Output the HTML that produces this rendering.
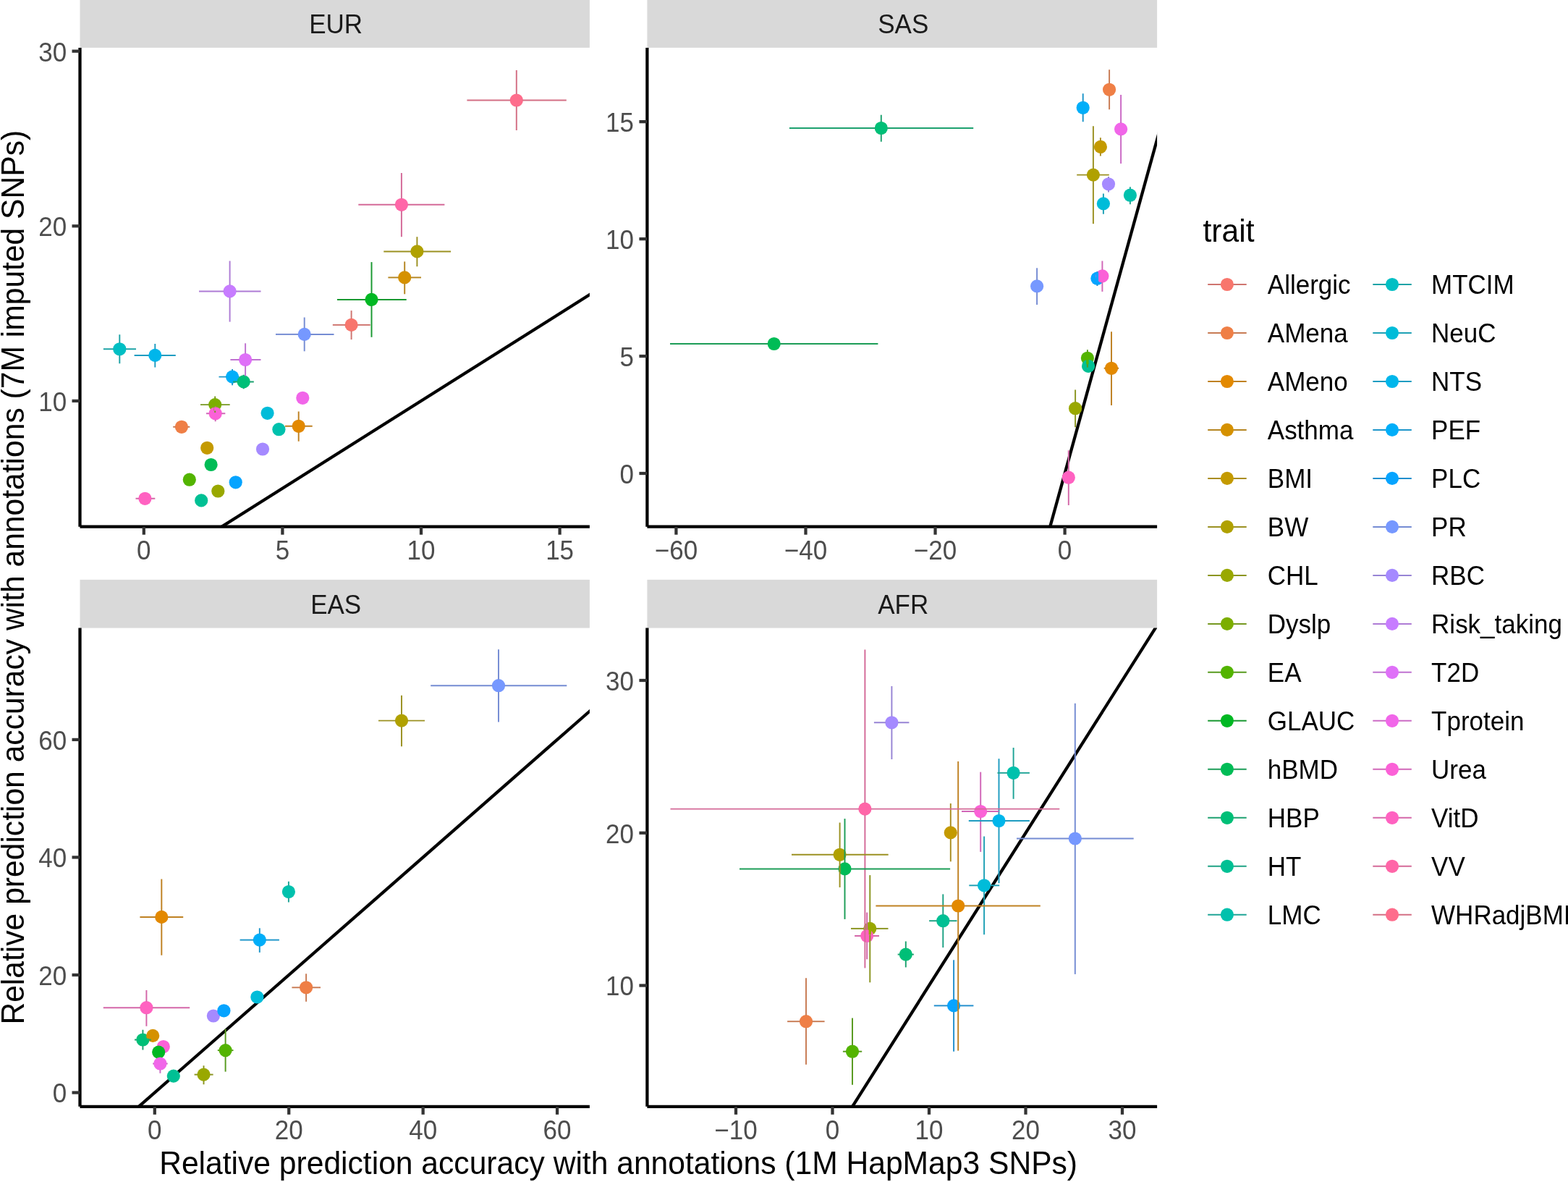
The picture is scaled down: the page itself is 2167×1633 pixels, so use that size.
<!DOCTYPE html><html><head><meta charset="utf-8"><title>Relative prediction accuracy</title>
<style>html,body{margin:0;padding:0;background:#fff;overflow:hidden}svg{display:block}text{font-family:'Liberation Sans', Arial, Helvetica, sans-serif}</style></head><body>
<svg width="2167" height="1633" viewBox="0 0 2167 1633">
<rect x="0" y="0" width="2167" height="1633" fill="#fff"/>
<defs>
<clipPath id="cEUR"><rect x="110.5" y="65.9" width="704.4" height="661.8"/></clipPath>
<clipPath id="cSAS"><rect x="894.4" y="65.9" width="704.7" height="661.8"/></clipPath>
<clipPath id="cEAS"><rect x="110.5" y="867.6" width="704.4" height="661.2"/></clipPath>
<clipPath id="cAFR"><rect x="894.4" y="867.6" width="704.7" height="661.2"/></clipPath>
</defs>
<rect x="110.5" y="-1.0" width="704.4" height="66.9" fill="#D9D9D9"/>
<text transform="translate(464.20,45.80) scale(1,1.040)" font-size="35" fill="#1A1A1A" text-anchor="middle">EUR</text>
<g clip-path="url(#cEUR)">
<line x1="-3633.20" y1="3211.50" x2="4030.80" y2="-1620.50" stroke="#000" stroke-width="4.27"/>
<circle cx="317.6" cy="402.4" r="9.1" fill="#C77CFF"/>
<circle cx="165.3" cy="482.3" r="9.1" fill="#00BFC4"/>
<circle cx="214.3" cy="490.9" r="9.1" fill="#00B6EB"/>
<circle cx="420.7" cy="461.9" r="9.1" fill="#7698FF"/>
<circle cx="339.1" cy="497.0" r="9.1" fill="#DF70F8"/>
<circle cx="321.1" cy="520.6" r="9.1" fill="#00AEF9"/>
<circle cx="336.7" cy="527.4" r="9.1" fill="#00BF77"/>
<circle cx="297.2" cy="559.1" r="9.1" fill="#7CAE00"/>
<circle cx="297.7" cy="571.3" r="9.1" fill="#FB61D7"/>
<circle cx="250.9" cy="589.8" r="9.1" fill="#EF7F46"/>
<circle cx="418.3" cy="549.8" r="9.1" fill="#F166E9"/>
<circle cx="369.6" cy="570.8" r="9.1" fill="#00BCD9"/>
<circle cx="385.4" cy="593.2" r="9.1" fill="#00C1AD"/>
<circle cx="412.7" cy="588.8" r="9.1" fill="#E38900"/>
<circle cx="286.2" cy="618.8" r="9.1" fill="#C49A00"/>
<circle cx="363.0" cy="620.5" r="9.1" fill="#A58AFF"/>
<circle cx="291.6" cy="642.0" r="9.1" fill="#00BC56"/>
<circle cx="261.8" cy="662.7" r="9.1" fill="#53B400"/>
<circle cx="301.3" cy="678.5" r="9.1" fill="#99A800"/>
<circle cx="325.7" cy="666.3" r="9.1" fill="#06A4FF"/>
<circle cx="278.2" cy="691.4" r="9.1" fill="#00C094"/>
<circle cx="200.4" cy="688.8" r="9.1" fill="#FF62C1"/>
<circle cx="713.8" cy="138.5" r="9.1" fill="#FE6D8C"/>
<circle cx="554.9" cy="282.8" r="9.1" fill="#FF66A8"/>
<circle cx="576.4" cy="347.4" r="9.1" fill="#B0A100"/>
<circle cx="559.2" cy="383.4" r="9.1" fill="#D59100"/>
<circle cx="513.5" cy="413.9" r="9.1" fill="#00B823"/>
<circle cx="485.6" cy="448.9" r="9.1" fill="#F8766D"/>
<line x1="317.6" y1="393.9" x2="317.6" y2="410.8" stroke="#C77CFF" stroke-width="3.35"/>
<line x1="309.2" y1="402.4" x2="326.1" y2="402.4" stroke="#C77CFF" stroke-width="3.35"/>
<line x1="165.3" y1="473.9" x2="165.3" y2="490.8" stroke="#00BFC4" stroke-width="3.35"/>
<line x1="156.9" y1="482.3" x2="173.8" y2="482.3" stroke="#00BFC4" stroke-width="3.35"/>
<line x1="214.3" y1="482.4" x2="214.3" y2="499.3" stroke="#00B6EB" stroke-width="3.35"/>
<line x1="205.9" y1="490.9" x2="222.8" y2="490.9" stroke="#00B6EB" stroke-width="3.35"/>
<line x1="420.7" y1="453.4" x2="420.7" y2="470.3" stroke="#7698FF" stroke-width="3.35"/>
<line x1="412.2" y1="461.9" x2="429.1" y2="461.9" stroke="#7698FF" stroke-width="3.35"/>
<line x1="339.1" y1="488.6" x2="339.1" y2="505.4" stroke="#DF70F8" stroke-width="3.35"/>
<line x1="330.7" y1="497.0" x2="347.6" y2="497.0" stroke="#DF70F8" stroke-width="3.35"/>
<line x1="321.1" y1="512.1" x2="321.1" y2="529.1" stroke="#00AEF9" stroke-width="3.35"/>
<line x1="312.7" y1="520.6" x2="329.6" y2="520.6" stroke="#00AEF9" stroke-width="3.35"/>
<line x1="336.7" y1="518.9" x2="336.7" y2="535.9" stroke="#00BF77" stroke-width="3.35"/>
<line x1="328.2" y1="527.4" x2="345.1" y2="527.4" stroke="#00BF77" stroke-width="3.35"/>
<line x1="297.2" y1="550.6" x2="297.2" y2="567.6" stroke="#7CAE00" stroke-width="3.35"/>
<line x1="288.8" y1="559.1" x2="305.6" y2="559.1" stroke="#7CAE00" stroke-width="3.35"/>
<line x1="297.7" y1="562.8" x2="297.7" y2="579.8" stroke="#FB61D7" stroke-width="3.35"/>
<line x1="289.2" y1="571.3" x2="306.1" y2="571.3" stroke="#FB61D7" stroke-width="3.35"/>
<line x1="242.5" y1="589.8" x2="259.4" y2="589.8" stroke="#EF7F46" stroke-width="3.35"/>
<line x1="412.7" y1="580.3" x2="412.7" y2="597.2" stroke="#E38900" stroke-width="3.35"/>
<line x1="404.2" y1="588.8" x2="421.1" y2="588.8" stroke="#E38900" stroke-width="3.35"/>
<line x1="192.0" y1="688.8" x2="208.8" y2="688.8" stroke="#FF62C1" stroke-width="3.35"/>
<line x1="713.8" y1="130.1" x2="713.8" y2="146.9" stroke="#FE6D8C" stroke-width="3.35"/>
<line x1="705.3" y1="138.5" x2="722.2" y2="138.5" stroke="#FE6D8C" stroke-width="3.35"/>
<line x1="554.9" y1="274.4" x2="554.9" y2="291.2" stroke="#FF66A8" stroke-width="3.35"/>
<line x1="546.4" y1="282.8" x2="563.4" y2="282.8" stroke="#FF66A8" stroke-width="3.35"/>
<line x1="576.4" y1="338.9" x2="576.4" y2="355.8" stroke="#B0A100" stroke-width="3.35"/>
<line x1="567.9" y1="347.4" x2="584.9" y2="347.4" stroke="#B0A100" stroke-width="3.35"/>
<line x1="559.2" y1="374.9" x2="559.2" y2="391.8" stroke="#D59100" stroke-width="3.35"/>
<line x1="550.8" y1="383.4" x2="567.7" y2="383.4" stroke="#D59100" stroke-width="3.35"/>
<line x1="513.5" y1="405.4" x2="513.5" y2="422.3" stroke="#00B823" stroke-width="3.35"/>
<line x1="505.1" y1="413.9" x2="522.0" y2="413.9" stroke="#00B823" stroke-width="3.35"/>
<line x1="485.6" y1="440.4" x2="485.6" y2="457.3" stroke="#F8766D" stroke-width="3.35"/>
<line x1="477.2" y1="448.9" x2="494.1" y2="448.9" stroke="#F8766D" stroke-width="3.35"/>
<line x1="317.6" y1="360.5" x2="317.6" y2="393.9" stroke="#AE7BD5" stroke-width="1.95"/>
<line x1="317.6" y1="410.8" x2="317.6" y2="444.6" stroke="#AE7BD5" stroke-width="1.95"/>
<line x1="165.3" y1="462.3" x2="165.3" y2="473.9" stroke="#1FA3A6" stroke-width="1.95"/>
<line x1="165.3" y1="490.8" x2="165.3" y2="502.3" stroke="#1FA3A6" stroke-width="1.95"/>
<line x1="214.3" y1="475.0" x2="214.3" y2="482.4" stroke="#1F9CC1" stroke-width="1.95"/>
<line x1="214.3" y1="499.3" x2="214.3" y2="507.4" stroke="#1F9CC1" stroke-width="1.95"/>
<line x1="420.7" y1="438.5" x2="420.7" y2="453.4" stroke="#758CD3" stroke-width="1.95"/>
<line x1="420.7" y1="470.3" x2="420.7" y2="485.3" stroke="#758CD3" stroke-width="1.95"/>
<line x1="339.1" y1="474.3" x2="339.1" y2="488.6" stroke="#BF72D0" stroke-width="1.95"/>
<line x1="339.1" y1="505.4" x2="339.1" y2="519.6" stroke="#BF72D0" stroke-width="1.95"/>
<line x1="321.1" y1="509.9" x2="321.1" y2="512.1" stroke="#1E96CA" stroke-width="1.95"/>
<line x1="321.1" y1="529.1" x2="321.1" y2="532.3" stroke="#1E96CA" stroke-width="1.95"/>
<line x1="336.7" y1="517.7" x2="336.7" y2="518.9" stroke="#1DA16F" stroke-width="1.95"/>
<line x1="336.7" y1="535.9" x2="336.7" y2="537.2" stroke="#1DA16F" stroke-width="1.95"/>
<line x1="297.2" y1="547.4" x2="297.2" y2="550.6" stroke="#769820" stroke-width="1.95"/>
<line x1="297.2" y1="567.6" x2="297.2" y2="570.1" stroke="#769820" stroke-width="1.95"/>
<line x1="297.7" y1="561.5" x2="297.7" y2="562.8" stroke="#D167B8" stroke-width="1.95"/>
<line x1="297.7" y1="579.8" x2="297.7" y2="582.3" stroke="#D167B8" stroke-width="1.95"/>
<line x1="412.7" y1="568.4" x2="412.7" y2="580.3" stroke="#BF8122" stroke-width="1.95"/>
<line x1="412.7" y1="597.2" x2="412.7" y2="609.8" stroke="#BF8122" stroke-width="1.95"/>
<line x1="713.8" y1="96.9" x2="713.8" y2="130.1" stroke="#D36F84" stroke-width="1.95"/>
<line x1="713.8" y1="146.9" x2="713.8" y2="180.1" stroke="#D36F84" stroke-width="1.95"/>
<line x1="554.9" y1="238.9" x2="554.9" y2="274.4" stroke="#D46A98" stroke-width="1.95"/>
<line x1="554.9" y1="291.2" x2="554.9" y2="327.2" stroke="#D46A98" stroke-width="1.95"/>
<line x1="576.4" y1="327.2" x2="576.4" y2="338.9" stroke="#9B9122" stroke-width="1.95"/>
<line x1="576.4" y1="355.8" x2="576.4" y2="368.2" stroke="#9B9122" stroke-width="1.95"/>
<line x1="559.2" y1="361.4" x2="559.2" y2="374.9" stroke="#B58622" stroke-width="1.95"/>
<line x1="559.2" y1="391.8" x2="559.2" y2="406.3" stroke="#B58622" stroke-width="1.95"/>
<line x1="513.5" y1="362.1" x2="513.5" y2="405.4" stroke="#1A9932" stroke-width="1.95"/>
<line x1="513.5" y1="422.3" x2="513.5" y2="465.8" stroke="#1A9932" stroke-width="1.95"/>
<line x1="485.6" y1="429.1" x2="485.6" y2="440.4" stroke="#CF756F" stroke-width="1.95"/>
<line x1="485.6" y1="457.3" x2="485.6" y2="469.1" stroke="#CF756F" stroke-width="1.95"/>
<line x1="275.0" y1="402.4" x2="309.2" y2="402.4" stroke="#AE7BD5" stroke-width="1.95"/>
<line x1="326.1" y1="402.4" x2="360.5" y2="402.4" stroke="#AE7BD5" stroke-width="1.95"/>
<line x1="142.9" y1="482.3" x2="156.9" y2="482.3" stroke="#1FA3A6" stroke-width="1.95"/>
<line x1="173.8" y1="482.3" x2="188.0" y2="482.3" stroke="#1FA3A6" stroke-width="1.95"/>
<line x1="185.6" y1="490.9" x2="205.9" y2="490.9" stroke="#1F9CC1" stroke-width="1.95"/>
<line x1="222.8" y1="490.9" x2="242.8" y2="490.9" stroke="#1F9CC1" stroke-width="1.95"/>
<line x1="381.0" y1="461.9" x2="412.2" y2="461.9" stroke="#758CD3" stroke-width="1.95"/>
<line x1="429.1" y1="461.9" x2="461.5" y2="461.9" stroke="#758CD3" stroke-width="1.95"/>
<line x1="318.4" y1="497.0" x2="330.7" y2="497.0" stroke="#BF72D0" stroke-width="1.95"/>
<line x1="347.6" y1="497.0" x2="360.5" y2="497.0" stroke="#BF72D0" stroke-width="1.95"/>
<line x1="302.5" y1="520.6" x2="312.7" y2="520.6" stroke="#1E96CA" stroke-width="1.95"/>
<line x1="329.6" y1="520.6" x2="330.6" y2="520.6" stroke="#1E96CA" stroke-width="1.95"/>
<line x1="322.0" y1="527.4" x2="328.2" y2="527.4" stroke="#1DA16F" stroke-width="1.95"/>
<line x1="345.1" y1="527.4" x2="350.8" y2="527.4" stroke="#1DA16F" stroke-width="1.95"/>
<line x1="277.0" y1="559.1" x2="288.8" y2="559.1" stroke="#769820" stroke-width="1.95"/>
<line x1="305.6" y1="559.1" x2="317.7" y2="559.1" stroke="#769820" stroke-width="1.95"/>
<line x1="285.0" y1="571.3" x2="289.2" y2="571.3" stroke="#D167B8" stroke-width="1.95"/>
<line x1="306.1" y1="571.3" x2="311.3" y2="571.3" stroke="#D167B8" stroke-width="1.95"/>
<line x1="239.2" y1="589.8" x2="242.5" y2="589.8" stroke="#C87B54" stroke-width="1.95"/>
<line x1="259.4" y1="589.8" x2="262.3" y2="589.8" stroke="#C87B54" stroke-width="1.95"/>
<line x1="393.9" y1="588.8" x2="404.2" y2="588.8" stroke="#BF8122" stroke-width="1.95"/>
<line x1="421.1" y1="588.8" x2="431.7" y2="588.8" stroke="#BF8122" stroke-width="1.95"/>
<line x1="187.5" y1="688.8" x2="192.0" y2="688.8" stroke="#D467A9" stroke-width="1.95"/>
<line x1="208.8" y1="688.8" x2="214.3" y2="688.8" stroke="#D467A9" stroke-width="1.95"/>
<line x1="645.4" y1="138.5" x2="705.3" y2="138.5" stroke="#D36F84" stroke-width="1.95"/>
<line x1="722.2" y1="138.5" x2="782.8" y2="138.5" stroke="#D36F84" stroke-width="1.95"/>
<line x1="495.3" y1="282.8" x2="546.4" y2="282.8" stroke="#D46A98" stroke-width="1.95"/>
<line x1="563.4" y1="282.8" x2="614.4" y2="282.8" stroke="#D46A98" stroke-width="1.95"/>
<line x1="530.3" y1="347.4" x2="567.9" y2="347.4" stroke="#9B9122" stroke-width="1.95"/>
<line x1="584.9" y1="347.4" x2="623.1" y2="347.4" stroke="#9B9122" stroke-width="1.95"/>
<line x1="536.4" y1="383.4" x2="550.8" y2="383.4" stroke="#B58622" stroke-width="1.95"/>
<line x1="567.7" y1="383.4" x2="582.0" y2="383.4" stroke="#B58622" stroke-width="1.95"/>
<line x1="465.9" y1="413.9" x2="505.1" y2="413.9" stroke="#1A9932" stroke-width="1.95"/>
<line x1="522.0" y1="413.9" x2="561.7" y2="413.9" stroke="#1A9932" stroke-width="1.95"/>
<line x1="459.8" y1="448.9" x2="477.2" y2="448.9" stroke="#CF756F" stroke-width="1.95"/>
<line x1="494.1" y1="448.9" x2="511.8" y2="448.9" stroke="#CF756F" stroke-width="1.95"/>
</g>
<line x1="110.50" y1="65.90" x2="110.50" y2="727.70" stroke="#000" stroke-width="4.27"/>
<line x1="110.50" y1="727.70" x2="814.90" y2="727.70" stroke="#000" stroke-width="4.27"/>
<line x1="99.50" y1="553.90" x2="110.50" y2="553.90" stroke="#333" stroke-width="4.27"/>
<text transform="translate(92.10,567.70) scale(1,1.040)" font-size="35" fill="#4D4D4D" text-anchor="end">10</text>
<line x1="99.50" y1="312.30" x2="110.50" y2="312.30" stroke="#333" stroke-width="4.27"/>
<text transform="translate(92.10,326.10) scale(1,1.040)" font-size="35" fill="#4D4D4D" text-anchor="end">20</text>
<line x1="99.50" y1="70.70" x2="110.50" y2="70.70" stroke="#333" stroke-width="4.27"/>
<text transform="translate(92.10,84.50) scale(1,1.040)" font-size="35" fill="#4D4D4D" text-anchor="end">30</text>
<line x1="198.80" y1="727.70" x2="198.80" y2="738.70" stroke="#333" stroke-width="4.27"/>
<text transform="translate(198.80,772.60) scale(1,1.040)" font-size="35" fill="#4D4D4D" text-anchor="middle">0</text>
<line x1="390.40" y1="727.70" x2="390.40" y2="738.70" stroke="#333" stroke-width="4.27"/>
<text transform="translate(390.40,772.60) scale(1,1.040)" font-size="35" fill="#4D4D4D" text-anchor="middle">5</text>
<line x1="582.00" y1="727.70" x2="582.00" y2="738.70" stroke="#333" stroke-width="4.27"/>
<text transform="translate(582.00,772.60) scale(1,1.040)" font-size="35" fill="#4D4D4D" text-anchor="middle">10</text>
<line x1="773.60" y1="727.70" x2="773.60" y2="738.70" stroke="#333" stroke-width="4.27"/>
<text transform="translate(773.60,772.60) scale(1,1.040)" font-size="35" fill="#4D4D4D" text-anchor="middle">15</text>
<rect x="894.4" y="-1.0" width="704.7" height="66.9" fill="#D9D9D9"/>
<text transform="translate(1248.25,45.80) scale(1,1.040)" font-size="35" fill="#1A1A1A" text-anchor="middle">SAS</text>
<g clip-path="url(#cSAS)">
<line x1="576.30" y1="3893.00" x2="2366.90" y2="-2585.00" stroke="#000" stroke-width="4.27"/>
<circle cx="1533.1" cy="123.8" r="9.1" fill="#EF7F46"/>
<circle cx="1496.7" cy="148.8" r="9.1" fill="#00AEF9"/>
<circle cx="1549.1" cy="178.4" r="9.1" fill="#F166E9"/>
<circle cx="1520.9" cy="202.9" r="9.1" fill="#C49A00"/>
<circle cx="1510.9" cy="241.6" r="9.1" fill="#B0A100"/>
<circle cx="1532.0" cy="254.3" r="9.1" fill="#A58AFF"/>
<circle cx="1561.9" cy="269.7" r="9.1" fill="#00C1AD"/>
<circle cx="1524.9" cy="281.4" r="9.1" fill="#00BCD9"/>
<circle cx="1433.1" cy="395.4" r="9.1" fill="#7698FF"/>
<circle cx="1516.4" cy="384.7" r="9.1" fill="#06A4FF"/>
<circle cx="1523.4" cy="381.4" r="9.1" fill="#FB61D7"/>
<circle cx="1502.9" cy="494.8" r="9.1" fill="#53B400"/>
<circle cx="1504.1" cy="505.8" r="9.1" fill="#00C094"/>
<circle cx="1536.0" cy="508.8" r="9.1" fill="#E38900"/>
<circle cx="1486.1" cy="564.2" r="9.1" fill="#99A800"/>
<circle cx="1476.8" cy="659.7" r="9.1" fill="#FF62C1"/>
<circle cx="1217.8" cy="177.0" r="9.1" fill="#00BF77"/>
<circle cx="1069.7" cy="475.0" r="9.1" fill="#00BC56"/>
<line x1="1533.1" y1="115.3" x2="1533.1" y2="132.2" stroke="#EF7F46" stroke-width="3.35"/>
<line x1="1496.7" y1="140.4" x2="1496.7" y2="157.2" stroke="#00AEF9" stroke-width="3.35"/>
<line x1="1549.1" y1="170.0" x2="1549.1" y2="186.8" stroke="#F166E9" stroke-width="3.35"/>
<line x1="1520.9" y1="194.5" x2="1520.9" y2="211.3" stroke="#C49A00" stroke-width="3.35"/>
<line x1="1510.9" y1="233.2" x2="1510.9" y2="250.0" stroke="#B0A100" stroke-width="3.35"/>
<line x1="1502.5" y1="241.6" x2="1519.4" y2="241.6" stroke="#B0A100" stroke-width="3.35"/>
<line x1="1532.0" y1="245.9" x2="1532.0" y2="262.8" stroke="#A58AFF" stroke-width="3.35"/>
<line x1="1561.9" y1="261.2" x2="1561.9" y2="278.1" stroke="#00C1AD" stroke-width="3.35"/>
<line x1="1524.9" y1="272.9" x2="1524.9" y2="289.8" stroke="#00BCD9" stroke-width="3.35"/>
<line x1="1433.1" y1="386.9" x2="1433.1" y2="403.8" stroke="#7698FF" stroke-width="3.35"/>
<line x1="1516.4" y1="376.2" x2="1516.4" y2="393.1" stroke="#06A4FF" stroke-width="3.35"/>
<line x1="1523.4" y1="372.9" x2="1523.4" y2="389.8" stroke="#FB61D7" stroke-width="3.35"/>
<line x1="1502.9" y1="486.4" x2="1502.9" y2="503.2" stroke="#53B400" stroke-width="3.35"/>
<line x1="1536.0" y1="500.4" x2="1536.0" y2="517.2" stroke="#E38900" stroke-width="3.35"/>
<line x1="1527.5" y1="508.8" x2="1544.5" y2="508.8" stroke="#E38900" stroke-width="3.35"/>
<line x1="1486.1" y1="555.8" x2="1486.1" y2="572.7" stroke="#99A800" stroke-width="3.35"/>
<line x1="1476.8" y1="651.2" x2="1476.8" y2="668.2" stroke="#FF62C1" stroke-width="3.35"/>
<line x1="1217.8" y1="168.6" x2="1217.8" y2="185.4" stroke="#00BF77" stroke-width="3.35"/>
<line x1="1209.3" y1="177.0" x2="1226.2" y2="177.0" stroke="#00BF77" stroke-width="3.35"/>
<line x1="1061.2" y1="475.0" x2="1078.2" y2="475.0" stroke="#00BC56" stroke-width="3.35"/>
<line x1="1533.1" y1="96.2" x2="1533.1" y2="115.3" stroke="#C87B54" stroke-width="1.95"/>
<line x1="1533.1" y1="132.2" x2="1533.1" y2="151.3" stroke="#C87B54" stroke-width="1.95"/>
<line x1="1496.7" y1="129.3" x2="1496.7" y2="140.4" stroke="#1E96CA" stroke-width="1.95"/>
<line x1="1496.7" y1="157.2" x2="1496.7" y2="168.3" stroke="#1E96CA" stroke-width="1.95"/>
<line x1="1549.1" y1="130.9" x2="1549.1" y2="170.0" stroke="#CB6BC5" stroke-width="1.95"/>
<line x1="1549.1" y1="186.8" x2="1549.1" y2="226.1" stroke="#CB6BC5" stroke-width="1.95"/>
<line x1="1520.9" y1="190.2" x2="1520.9" y2="194.5" stroke="#AA8D22" stroke-width="1.95"/>
<line x1="1520.9" y1="211.3" x2="1520.9" y2="215.6" stroke="#AA8D22" stroke-width="1.95"/>
<line x1="1510.9" y1="174.2" x2="1510.9" y2="233.2" stroke="#9B9122" stroke-width="1.95"/>
<line x1="1510.9" y1="250.0" x2="1510.9" y2="309.2" stroke="#9B9122" stroke-width="1.95"/>
<line x1="1532.0" y1="244.0" x2="1532.0" y2="245.9" stroke="#9784D5" stroke-width="1.95"/>
<line x1="1532.0" y1="262.8" x2="1532.0" y2="265.5" stroke="#9784D5" stroke-width="1.95"/>
<line x1="1561.9" y1="258.3" x2="1561.9" y2="261.2" stroke="#1FA496" stroke-width="1.95"/>
<line x1="1561.9" y1="278.1" x2="1561.9" y2="282.2" stroke="#1FA496" stroke-width="1.95"/>
<line x1="1524.9" y1="267.5" x2="1524.9" y2="272.9" stroke="#1FA1B5" stroke-width="1.95"/>
<line x1="1524.9" y1="289.8" x2="1524.9" y2="295.7" stroke="#1FA1B5" stroke-width="1.95"/>
<line x1="1433.1" y1="370.3" x2="1433.1" y2="386.9" stroke="#758CD3" stroke-width="1.95"/>
<line x1="1433.1" y1="403.8" x2="1433.1" y2="421.0" stroke="#758CD3" stroke-width="1.95"/>
<line x1="1516.4" y1="375.0" x2="1516.4" y2="376.2" stroke="#218ECD" stroke-width="1.95"/>
<line x1="1516.4" y1="393.1" x2="1516.4" y2="395.0" stroke="#218ECD" stroke-width="1.95"/>
<line x1="1523.4" y1="360.5" x2="1523.4" y2="372.9" stroke="#D167B8" stroke-width="1.95"/>
<line x1="1523.4" y1="389.8" x2="1523.4" y2="402.9" stroke="#D167B8" stroke-width="1.95"/>
<line x1="1502.9" y1="483.2" x2="1502.9" y2="486.4" stroke="#579A1E" stroke-width="1.95"/>
<line x1="1502.9" y1="503.2" x2="1502.9" y2="507.6" stroke="#579A1E" stroke-width="1.95"/>
<line x1="1536.0" y1="458.3" x2="1536.0" y2="500.4" stroke="#BF8122" stroke-width="1.95"/>
<line x1="1536.0" y1="517.2" x2="1536.0" y2="560.0" stroke="#BF8122" stroke-width="1.95"/>
<line x1="1486.1" y1="538.4" x2="1486.1" y2="555.8" stroke="#8B9521" stroke-width="1.95"/>
<line x1="1486.1" y1="572.7" x2="1486.1" y2="590.3" stroke="#8B9521" stroke-width="1.95"/>
<line x1="1476.8" y1="622.2" x2="1476.8" y2="651.2" stroke="#D467A9" stroke-width="1.95"/>
<line x1="1476.8" y1="668.2" x2="1476.8" y2="697.9" stroke="#D467A9" stroke-width="1.95"/>
<line x1="1217.8" y1="158.7" x2="1217.8" y2="168.6" stroke="#1DA16F" stroke-width="1.95"/>
<line x1="1217.8" y1="185.4" x2="1217.8" y2="195.8" stroke="#1DA16F" stroke-width="1.95"/>
<line x1="1488.2" y1="241.6" x2="1502.5" y2="241.6" stroke="#9B9122" stroke-width="1.95"/>
<line x1="1519.4" y1="241.6" x2="1532.8" y2="241.6" stroke="#9B9122" stroke-width="1.95"/>
<line x1="1525.7" y1="508.8" x2="1527.5" y2="508.8" stroke="#BF8122" stroke-width="1.95"/>
<line x1="1544.5" y1="508.8" x2="1546.2" y2="508.8" stroke="#BF8122" stroke-width="1.95"/>
<line x1="1090.9" y1="177.0" x2="1209.3" y2="177.0" stroke="#1DA16F" stroke-width="1.95"/>
<line x1="1226.2" y1="177.0" x2="1345.2" y2="177.0" stroke="#1DA16F" stroke-width="1.95"/>
<line x1="926.0" y1="475.0" x2="1061.2" y2="475.0" stroke="#1C9D57" stroke-width="1.95"/>
<line x1="1078.2" y1="475.0" x2="1213.4" y2="475.0" stroke="#1C9D57" stroke-width="1.95"/>
</g>
<line x1="894.40" y1="65.90" x2="894.40" y2="727.70" stroke="#000" stroke-width="4.27"/>
<line x1="894.40" y1="727.70" x2="1599.10" y2="727.70" stroke="#000" stroke-width="4.27"/>
<line x1="883.40" y1="654.00" x2="894.40" y2="654.00" stroke="#333" stroke-width="4.27"/>
<text transform="translate(876.00,667.80) scale(1,1.040)" font-size="35" fill="#4D4D4D" text-anchor="end">0</text>
<line x1="883.40" y1="492.05" x2="894.40" y2="492.05" stroke="#333" stroke-width="4.27"/>
<text transform="translate(876.00,505.85) scale(1,1.040)" font-size="35" fill="#4D4D4D" text-anchor="end">5</text>
<line x1="883.40" y1="330.10" x2="894.40" y2="330.10" stroke="#333" stroke-width="4.27"/>
<text transform="translate(876.00,343.90) scale(1,1.040)" font-size="35" fill="#4D4D4D" text-anchor="end">10</text>
<line x1="883.40" y1="168.15" x2="894.40" y2="168.15" stroke="#333" stroke-width="4.27"/>
<text transform="translate(876.00,181.95) scale(1,1.040)" font-size="35" fill="#4D4D4D" text-anchor="end">15</text>
<line x1="934.42" y1="727.70" x2="934.42" y2="738.70" stroke="#333" stroke-width="4.27"/>
<text transform="translate(934.42,772.60) scale(1,1.040)" font-size="35" fill="#4D4D4D" text-anchor="middle">−60</text>
<line x1="1113.48" y1="727.70" x2="1113.48" y2="738.70" stroke="#333" stroke-width="4.27"/>
<text transform="translate(1113.48,772.60) scale(1,1.040)" font-size="35" fill="#4D4D4D" text-anchor="middle">−40</text>
<line x1="1292.54" y1="727.70" x2="1292.54" y2="738.70" stroke="#333" stroke-width="4.27"/>
<text transform="translate(1292.54,772.60) scale(1,1.040)" font-size="35" fill="#4D4D4D" text-anchor="middle">−20</text>
<line x1="1471.60" y1="727.70" x2="1471.60" y2="738.70" stroke="#333" stroke-width="4.27"/>
<text transform="translate(1471.60,772.60) scale(1,1.040)" font-size="35" fill="#4D4D4D" text-anchor="middle">0</text>
<rect x="110.5" y="800.9" width="704.4" height="66.7" fill="#D9D9D9"/>
<text transform="translate(464.20,847.50) scale(1,1.040)" font-size="35" fill="#1A1A1A" text-anchor="middle">EAS</text>
<g clip-path="url(#cEAS)">
<line x1="-713.30" y1="2322.20" x2="1140.90" y2="696.80" stroke="#000" stroke-width="4.27"/>
<circle cx="223.3" cy="1266.9" r="9.1" fill="#E38900"/>
<circle cx="398.9" cy="1232.0" r="9.1" fill="#00C1AD"/>
<circle cx="358.8" cy="1298.6" r="9.1" fill="#00AEF9"/>
<circle cx="423.1" cy="1364.3" r="9.1" fill="#EF7F46"/>
<circle cx="355.4" cy="1377.5" r="9.1" fill="#00BCD9"/>
<circle cx="202.4" cy="1392.2" r="9.1" fill="#FF62C1"/>
<circle cx="294.9" cy="1403.5" r="9.1" fill="#A58AFF"/>
<circle cx="309.4" cy="1396.3" r="9.1" fill="#06A4FF"/>
<circle cx="197.4" cy="1436.5" r="9.1" fill="#00BF77"/>
<circle cx="211.2" cy="1430.9" r="9.1" fill="#D59100"/>
<circle cx="225.8" cy="1446.0" r="9.1" fill="#FB61D7"/>
<circle cx="219.2" cy="1453.6" r="9.1" fill="#00B823"/>
<circle cx="221.4" cy="1469.5" r="9.1" fill="#F166E9"/>
<circle cx="239.8" cy="1486.6" r="9.1" fill="#00C094"/>
<circle cx="281.5" cy="1484.6" r="9.1" fill="#99A800"/>
<circle cx="311.6" cy="1451.1" r="9.1" fill="#53B400"/>
<circle cx="555.0" cy="995.6" r="9.1" fill="#B0A100"/>
<circle cx="689.0" cy="947.2" r="9.1" fill="#7698FF"/>
<line x1="223.3" y1="1258.5" x2="223.3" y2="1275.4" stroke="#E38900" stroke-width="3.35"/>
<line x1="214.9" y1="1266.9" x2="231.8" y2="1266.9" stroke="#E38900" stroke-width="3.35"/>
<line x1="398.9" y1="1223.5" x2="398.9" y2="1240.5" stroke="#00C1AD" stroke-width="3.35"/>
<line x1="358.8" y1="1290.1" x2="358.8" y2="1307.0" stroke="#00AEF9" stroke-width="3.35"/>
<line x1="350.4" y1="1298.6" x2="367.2" y2="1298.6" stroke="#00AEF9" stroke-width="3.35"/>
<line x1="423.1" y1="1355.8" x2="423.1" y2="1372.8" stroke="#EF7F46" stroke-width="3.35"/>
<line x1="414.7" y1="1364.3" x2="431.6" y2="1364.3" stroke="#EF7F46" stroke-width="3.35"/>
<line x1="202.4" y1="1383.8" x2="202.4" y2="1400.7" stroke="#FF62C1" stroke-width="3.35"/>
<line x1="194.0" y1="1392.2" x2="210.8" y2="1392.2" stroke="#FF62C1" stroke-width="3.35"/>
<line x1="197.4" y1="1428.0" x2="197.4" y2="1445.0" stroke="#00BF77" stroke-width="3.35"/>
<line x1="189.0" y1="1436.5" x2="205.8" y2="1436.5" stroke="#00BF77" stroke-width="3.35"/>
<line x1="221.4" y1="1461.3" x2="221.4" y2="1478.0" stroke="#F166E9" stroke-width="3.35"/>
<line x1="213.0" y1="1469.5" x2="229.8" y2="1469.5" stroke="#F166E9" stroke-width="3.35"/>
<line x1="281.5" y1="1476.1" x2="281.5" y2="1493.0" stroke="#99A800" stroke-width="3.35"/>
<line x1="273.1" y1="1484.6" x2="289.9" y2="1484.6" stroke="#99A800" stroke-width="3.35"/>
<line x1="311.6" y1="1442.6" x2="311.6" y2="1459.5" stroke="#53B400" stroke-width="3.35"/>
<line x1="303.2" y1="1451.1" x2="320.1" y2="1451.1" stroke="#53B400" stroke-width="3.35"/>
<line x1="555.0" y1="987.1" x2="555.0" y2="1004.1" stroke="#B0A100" stroke-width="3.35"/>
<line x1="546.5" y1="995.6" x2="563.5" y2="995.6" stroke="#B0A100" stroke-width="3.35"/>
<line x1="689.0" y1="938.8" x2="689.0" y2="955.7" stroke="#7698FF" stroke-width="3.35"/>
<line x1="680.5" y1="947.2" x2="697.5" y2="947.2" stroke="#7698FF" stroke-width="3.35"/>
<line x1="223.3" y1="1214.4" x2="223.3" y2="1258.5" stroke="#BF8122" stroke-width="1.95"/>
<line x1="223.3" y1="1275.4" x2="223.3" y2="1319.7" stroke="#BF8122" stroke-width="1.95"/>
<line x1="398.9" y1="1217.8" x2="398.9" y2="1223.5" stroke="#1FA496" stroke-width="1.95"/>
<line x1="398.9" y1="1240.5" x2="398.9" y2="1246.5" stroke="#1FA496" stroke-width="1.95"/>
<line x1="358.8" y1="1282.3" x2="358.8" y2="1290.1" stroke="#1E96CA" stroke-width="1.95"/>
<line x1="358.8" y1="1307.0" x2="358.8" y2="1315.9" stroke="#1E96CA" stroke-width="1.95"/>
<line x1="423.1" y1="1345.3" x2="423.1" y2="1355.8" stroke="#C87B54" stroke-width="1.95"/>
<line x1="423.1" y1="1372.8" x2="423.1" y2="1383.8" stroke="#C87B54" stroke-width="1.95"/>
<line x1="202.4" y1="1368.0" x2="202.4" y2="1383.8" stroke="#D467A9" stroke-width="1.95"/>
<line x1="202.4" y1="1400.7" x2="202.4" y2="1417.8" stroke="#D467A9" stroke-width="1.95"/>
<line x1="197.4" y1="1422.8" x2="197.4" y2="1428.0" stroke="#1DA16F" stroke-width="1.95"/>
<line x1="197.4" y1="1445.0" x2="197.4" y2="1450.6" stroke="#1DA16F" stroke-width="1.95"/>
<line x1="221.4" y1="1478.0" x2="221.4" y2="1482.8" stroke="#CB6BC5" stroke-width="1.95"/>
<line x1="281.5" y1="1472.2" x2="281.5" y2="1476.1" stroke="#8B9521" stroke-width="1.95"/>
<line x1="281.5" y1="1493.0" x2="281.5" y2="1498.2" stroke="#8B9521" stroke-width="1.95"/>
<line x1="311.6" y1="1421.7" x2="311.6" y2="1442.6" stroke="#579A1E" stroke-width="1.95"/>
<line x1="311.6" y1="1459.5" x2="311.6" y2="1480.6" stroke="#579A1E" stroke-width="1.95"/>
<line x1="555.0" y1="960.7" x2="555.0" y2="987.1" stroke="#9B9122" stroke-width="1.95"/>
<line x1="555.0" y1="1004.1" x2="555.0" y2="1031.2" stroke="#9B9122" stroke-width="1.95"/>
<line x1="689.0" y1="897.3" x2="689.0" y2="938.8" stroke="#758CD3" stroke-width="1.95"/>
<line x1="689.0" y1="955.7" x2="689.0" y2="997.5" stroke="#758CD3" stroke-width="1.95"/>
<line x1="193.4" y1="1266.9" x2="214.9" y2="1266.9" stroke="#BF8122" stroke-width="1.95"/>
<line x1="231.8" y1="1266.9" x2="253.2" y2="1266.9" stroke="#BF8122" stroke-width="1.95"/>
<line x1="331.6" y1="1298.6" x2="350.4" y2="1298.6" stroke="#1E96CA" stroke-width="1.95"/>
<line x1="367.2" y1="1298.6" x2="385.9" y2="1298.6" stroke="#1E96CA" stroke-width="1.95"/>
<line x1="403.4" y1="1364.3" x2="414.7" y2="1364.3" stroke="#C87B54" stroke-width="1.95"/>
<line x1="431.6" y1="1364.3" x2="443.0" y2="1364.3" stroke="#C87B54" stroke-width="1.95"/>
<line x1="142.8" y1="1392.2" x2="194.0" y2="1392.2" stroke="#D467A9" stroke-width="1.95"/>
<line x1="210.8" y1="1392.2" x2="262.2" y2="1392.2" stroke="#D467A9" stroke-width="1.95"/>
<line x1="186.0" y1="1436.5" x2="189.0" y2="1436.5" stroke="#1DA16F" stroke-width="1.95"/>
<line x1="205.8" y1="1436.5" x2="208.7" y2="1436.5" stroke="#1DA16F" stroke-width="1.95"/>
<line x1="211.2" y1="1469.5" x2="213.0" y2="1469.5" stroke="#CB6BC5" stroke-width="1.95"/>
<line x1="229.8" y1="1469.5" x2="231.7" y2="1469.5" stroke="#CB6BC5" stroke-width="1.95"/>
<line x1="268.6" y1="1484.6" x2="273.1" y2="1484.6" stroke="#8B9521" stroke-width="1.95"/>
<line x1="289.9" y1="1484.6" x2="294.6" y2="1484.6" stroke="#8B9521" stroke-width="1.95"/>
<line x1="300.8" y1="1451.1" x2="303.2" y2="1451.1" stroke="#579A1E" stroke-width="1.95"/>
<line x1="320.1" y1="1451.1" x2="322.5" y2="1451.1" stroke="#579A1E" stroke-width="1.95"/>
<line x1="523.0" y1="995.6" x2="546.5" y2="995.6" stroke="#9B9122" stroke-width="1.95"/>
<line x1="563.5" y1="995.6" x2="587.0" y2="995.6" stroke="#9B9122" stroke-width="1.95"/>
<line x1="595.2" y1="947.2" x2="680.5" y2="947.2" stroke="#758CD3" stroke-width="1.95"/>
<line x1="697.5" y1="947.2" x2="783.3" y2="947.2" stroke="#758CD3" stroke-width="1.95"/>
</g>
<line x1="110.50" y1="867.60" x2="110.50" y2="1528.80" stroke="#000" stroke-width="4.27"/>
<line x1="110.50" y1="1528.80" x2="814.90" y2="1528.80" stroke="#000" stroke-width="4.27"/>
<line x1="99.50" y1="1509.50" x2="110.50" y2="1509.50" stroke="#333" stroke-width="4.27"/>
<text transform="translate(92.10,1523.30) scale(1,1.040)" font-size="35" fill="#4D4D4D" text-anchor="end">0</text>
<line x1="99.50" y1="1346.96" x2="110.50" y2="1346.96" stroke="#333" stroke-width="4.27"/>
<text transform="translate(92.10,1360.76) scale(1,1.040)" font-size="35" fill="#4D4D4D" text-anchor="end">20</text>
<line x1="99.50" y1="1184.42" x2="110.50" y2="1184.42" stroke="#333" stroke-width="4.27"/>
<text transform="translate(92.10,1198.22) scale(1,1.040)" font-size="35" fill="#4D4D4D" text-anchor="end">40</text>
<line x1="99.50" y1="1021.88" x2="110.50" y2="1021.88" stroke="#333" stroke-width="4.27"/>
<text transform="translate(92.10,1035.68) scale(1,1.040)" font-size="35" fill="#4D4D4D" text-anchor="end">60</text>
<line x1="213.80" y1="1528.80" x2="213.80" y2="1539.80" stroke="#333" stroke-width="4.27"/>
<text transform="translate(213.80,1573.70) scale(1,1.040)" font-size="35" fill="#4D4D4D" text-anchor="middle">0</text>
<line x1="399.22" y1="1528.80" x2="399.22" y2="1539.80" stroke="#333" stroke-width="4.27"/>
<text transform="translate(399.22,1573.70) scale(1,1.040)" font-size="35" fill="#4D4D4D" text-anchor="middle">20</text>
<line x1="584.64" y1="1528.80" x2="584.64" y2="1539.80" stroke="#333" stroke-width="4.27"/>
<text transform="translate(584.64,1573.70) scale(1,1.040)" font-size="35" fill="#4D4D4D" text-anchor="middle">40</text>
<line x1="770.06" y1="1528.80" x2="770.06" y2="1539.80" stroke="#333" stroke-width="4.27"/>
<text transform="translate(770.06,1573.70) scale(1,1.040)" font-size="35" fill="#4D4D4D" text-anchor="middle">60</text>
<rect x="894.4" y="800.9" width="704.7" height="66.7" fill="#D9D9D9"/>
<text transform="translate(1248.25,847.50) scale(1,1.040)" font-size="35" fill="#1A1A1A" text-anchor="middle">AFR</text>
<g clip-path="url(#cAFR)">
<line x1="-184.50" y1="3679.75" x2="2485.50" y2="-535.25" stroke="#000" stroke-width="4.27"/>
<circle cx="1114.0" cy="1411.2" r="9.1" fill="#EF7F46"/>
<circle cx="1178.0" cy="1452.7" r="9.1" fill="#53B400"/>
<circle cx="1318.1" cy="1389.4" r="9.1" fill="#06A4FF"/>
<circle cx="1324.2" cy="1251.5" r="9.1" fill="#E38900"/>
<circle cx="1303.3" cy="1272.2" r="9.1" fill="#00C094"/>
<circle cx="1251.8" cy="1318.6" r="9.1" fill="#00BF77"/>
<circle cx="1360.1" cy="1223.3" r="9.1" fill="#00BCD9"/>
<circle cx="1202.3" cy="1282.9" r="9.1" fill="#99A800"/>
<circle cx="1198.2" cy="1293.0" r="9.1" fill="#FF62C1"/>
<circle cx="1195.4" cy="1117.6" r="9.1" fill="#FF66A8"/>
<circle cx="1232.4" cy="998.3" r="9.1" fill="#A58AFF"/>
<circle cx="1160.6" cy="1180.8" r="9.1" fill="#B0A100"/>
<circle cx="1167.5" cy="1200.4" r="9.1" fill="#00BC56"/>
<circle cx="1485.8" cy="1158.5" r="9.1" fill="#7698FF"/>
<circle cx="1400.6" cy="1067.8" r="9.1" fill="#00C1AD"/>
<circle cx="1380.5" cy="1134.0" r="9.1" fill="#00B6EB"/>
<circle cx="1355.2" cy="1121.0" r="9.1" fill="#FB61D7"/>
<circle cx="1313.8" cy="1150.4" r="9.1" fill="#C49A00"/>
<line x1="1114.0" y1="1402.8" x2="1114.0" y2="1419.7" stroke="#EF7F46" stroke-width="3.35"/>
<line x1="1105.5" y1="1411.2" x2="1122.5" y2="1411.2" stroke="#EF7F46" stroke-width="3.35"/>
<line x1="1178.0" y1="1444.2" x2="1178.0" y2="1461.2" stroke="#53B400" stroke-width="3.35"/>
<line x1="1169.5" y1="1452.7" x2="1186.5" y2="1452.7" stroke="#53B400" stroke-width="3.35"/>
<line x1="1318.1" y1="1381.0" x2="1318.1" y2="1397.9" stroke="#06A4FF" stroke-width="3.35"/>
<line x1="1309.6" y1="1389.4" x2="1326.5" y2="1389.4" stroke="#06A4FF" stroke-width="3.35"/>
<line x1="1324.2" y1="1243.0" x2="1324.2" y2="1260.0" stroke="#E38900" stroke-width="3.35"/>
<line x1="1315.8" y1="1251.5" x2="1332.7" y2="1251.5" stroke="#E38900" stroke-width="3.35"/>
<line x1="1303.3" y1="1263.8" x2="1303.3" y2="1280.7" stroke="#00C094" stroke-width="3.35"/>
<line x1="1294.8" y1="1272.2" x2="1311.8" y2="1272.2" stroke="#00C094" stroke-width="3.35"/>
<line x1="1251.8" y1="1310.1" x2="1251.8" y2="1327.0" stroke="#00BF77" stroke-width="3.35"/>
<line x1="1243.3" y1="1318.6" x2="1260.2" y2="1318.6" stroke="#00BF77" stroke-width="3.35"/>
<line x1="1360.1" y1="1214.8" x2="1360.1" y2="1231.8" stroke="#00BCD9" stroke-width="3.35"/>
<line x1="1351.6" y1="1223.3" x2="1368.5" y2="1223.3" stroke="#00BCD9" stroke-width="3.35"/>
<line x1="1202.3" y1="1274.5" x2="1202.3" y2="1291.4" stroke="#99A800" stroke-width="3.35"/>
<line x1="1193.8" y1="1282.9" x2="1210.8" y2="1282.9" stroke="#99A800" stroke-width="3.35"/>
<line x1="1198.2" y1="1284.5" x2="1198.2" y2="1301.5" stroke="#FF62C1" stroke-width="3.35"/>
<line x1="1189.8" y1="1293.0" x2="1206.7" y2="1293.0" stroke="#FF62C1" stroke-width="3.35"/>
<line x1="1195.4" y1="1109.1" x2="1195.4" y2="1126.0" stroke="#FF66A8" stroke-width="3.35"/>
<line x1="1187.0" y1="1117.6" x2="1203.9" y2="1117.6" stroke="#FF66A8" stroke-width="3.35"/>
<line x1="1232.4" y1="989.8" x2="1232.4" y2="1006.8" stroke="#A58AFF" stroke-width="3.35"/>
<line x1="1224.0" y1="998.3" x2="1240.9" y2="998.3" stroke="#A58AFF" stroke-width="3.35"/>
<line x1="1160.6" y1="1172.3" x2="1160.6" y2="1189.2" stroke="#B0A100" stroke-width="3.35"/>
<line x1="1152.1" y1="1180.8" x2="1169.0" y2="1180.8" stroke="#B0A100" stroke-width="3.35"/>
<line x1="1167.5" y1="1192.0" x2="1167.5" y2="1208.9" stroke="#00BC56" stroke-width="3.35"/>
<line x1="1159.0" y1="1200.4" x2="1176.0" y2="1200.4" stroke="#00BC56" stroke-width="3.35"/>
<line x1="1485.8" y1="1150.0" x2="1485.8" y2="1167.0" stroke="#7698FF" stroke-width="3.35"/>
<line x1="1477.3" y1="1158.5" x2="1494.2" y2="1158.5" stroke="#7698FF" stroke-width="3.35"/>
<line x1="1400.6" y1="1059.3" x2="1400.6" y2="1076.2" stroke="#00C1AD" stroke-width="3.35"/>
<line x1="1392.1" y1="1067.8" x2="1409.0" y2="1067.8" stroke="#00C1AD" stroke-width="3.35"/>
<line x1="1380.5" y1="1125.5" x2="1380.5" y2="1142.5" stroke="#00B6EB" stroke-width="3.35"/>
<line x1="1372.0" y1="1134.0" x2="1389.0" y2="1134.0" stroke="#00B6EB" stroke-width="3.35"/>
<line x1="1355.2" y1="1112.5" x2="1355.2" y2="1129.5" stroke="#FB61D7" stroke-width="3.35"/>
<line x1="1346.8" y1="1121.0" x2="1363.7" y2="1121.0" stroke="#FB61D7" stroke-width="3.35"/>
<line x1="1313.8" y1="1142.0" x2="1313.8" y2="1158.9" stroke="#C49A00" stroke-width="3.35"/>
<line x1="1305.3" y1="1150.4" x2="1322.0" y2="1150.4" stroke="#C49A00" stroke-width="3.35"/>
<line x1="1114.0" y1="1351.2" x2="1114.0" y2="1402.8" stroke="#C87B54" stroke-width="1.95"/>
<line x1="1114.0" y1="1419.7" x2="1114.0" y2="1470.8" stroke="#C87B54" stroke-width="1.95"/>
<line x1="1178.0" y1="1406.6" x2="1178.0" y2="1444.2" stroke="#579A1E" stroke-width="1.95"/>
<line x1="1178.0" y1="1461.2" x2="1178.0" y2="1498.7" stroke="#579A1E" stroke-width="1.95"/>
<line x1="1318.1" y1="1326.3" x2="1318.1" y2="1381.0" stroke="#218ECD" stroke-width="1.95"/>
<line x1="1318.1" y1="1397.9" x2="1318.1" y2="1452.7" stroke="#218ECD" stroke-width="1.95"/>
<line x1="1324.2" y1="1051.9" x2="1324.2" y2="1243.0" stroke="#BF8122" stroke-width="1.95"/>
<line x1="1324.2" y1="1260.0" x2="1324.2" y2="1451.6" stroke="#BF8122" stroke-width="1.95"/>
<line x1="1303.3" y1="1235.4" x2="1303.3" y2="1263.8" stroke="#1EA284" stroke-width="1.95"/>
<line x1="1303.3" y1="1280.7" x2="1303.3" y2="1309.1" stroke="#1EA284" stroke-width="1.95"/>
<line x1="1251.8" y1="1300.5" x2="1251.8" y2="1310.1" stroke="#1DA16F" stroke-width="1.95"/>
<line x1="1251.8" y1="1327.0" x2="1251.8" y2="1336.4" stroke="#1DA16F" stroke-width="1.95"/>
<line x1="1360.1" y1="1155.5" x2="1360.1" y2="1214.8" stroke="#1FA1B5" stroke-width="1.95"/>
<line x1="1360.1" y1="1231.8" x2="1360.1" y2="1291.2" stroke="#1FA1B5" stroke-width="1.95"/>
<line x1="1202.3" y1="1209.1" x2="1202.3" y2="1274.5" stroke="#8B9521" stroke-width="1.95"/>
<line x1="1202.3" y1="1291.4" x2="1202.3" y2="1357.3" stroke="#8B9521" stroke-width="1.95"/>
<line x1="1198.2" y1="1260.6" x2="1198.2" y2="1284.5" stroke="#D467A9" stroke-width="1.95"/>
<line x1="1198.2" y1="1301.5" x2="1198.2" y2="1325.3" stroke="#D467A9" stroke-width="1.95"/>
<line x1="1195.4" y1="897.6" x2="1195.4" y2="1109.1" stroke="#D46A98" stroke-width="1.95"/>
<line x1="1195.4" y1="1126.0" x2="1195.4" y2="1337.4" stroke="#D46A98" stroke-width="1.95"/>
<line x1="1232.4" y1="947.9" x2="1232.4" y2="989.8" stroke="#9784D5" stroke-width="1.95"/>
<line x1="1232.4" y1="1006.8" x2="1232.4" y2="1049.0" stroke="#9784D5" stroke-width="1.95"/>
<line x1="1160.6" y1="1136.5" x2="1160.6" y2="1172.3" stroke="#9B9122" stroke-width="1.95"/>
<line x1="1160.6" y1="1189.2" x2="1160.6" y2="1225.9" stroke="#9B9122" stroke-width="1.95"/>
<line x1="1167.5" y1="1131.1" x2="1167.5" y2="1192.0" stroke="#1C9D57" stroke-width="1.95"/>
<line x1="1167.5" y1="1208.9" x2="1167.5" y2="1269.9" stroke="#1C9D57" stroke-width="1.95"/>
<line x1="1485.8" y1="971.8" x2="1485.8" y2="1150.0" stroke="#758CD3" stroke-width="1.95"/>
<line x1="1485.8" y1="1167.0" x2="1485.8" y2="1345.9" stroke="#758CD3" stroke-width="1.95"/>
<line x1="1400.6" y1="1033.0" x2="1400.6" y2="1059.3" stroke="#1FA496" stroke-width="1.95"/>
<line x1="1400.6" y1="1076.2" x2="1400.6" y2="1103.8" stroke="#1FA496" stroke-width="1.95"/>
<line x1="1380.5" y1="1048.2" x2="1380.5" y2="1125.5" stroke="#1F9CC1" stroke-width="1.95"/>
<line x1="1380.5" y1="1142.5" x2="1380.5" y2="1220.2" stroke="#1F9CC1" stroke-width="1.95"/>
<line x1="1355.2" y1="1066.6" x2="1355.2" y2="1112.5" stroke="#D167B8" stroke-width="1.95"/>
<line x1="1355.2" y1="1129.5" x2="1355.2" y2="1176.9" stroke="#D167B8" stroke-width="1.95"/>
<line x1="1313.8" y1="1110.0" x2="1313.8" y2="1142.0" stroke="#AA8D22" stroke-width="1.95"/>
<line x1="1313.8" y1="1158.9" x2="1313.8" y2="1190.3" stroke="#AA8D22" stroke-width="1.95"/>
<line x1="1088.1" y1="1411.2" x2="1105.5" y2="1411.2" stroke="#C87B54" stroke-width="1.95"/>
<line x1="1122.5" y1="1411.2" x2="1139.6" y2="1411.2" stroke="#C87B54" stroke-width="1.95"/>
<line x1="1164.9" y1="1452.7" x2="1169.5" y2="1452.7" stroke="#579A1E" stroke-width="1.95"/>
<line x1="1186.5" y1="1452.7" x2="1191.2" y2="1452.7" stroke="#579A1E" stroke-width="1.95"/>
<line x1="1290.8" y1="1389.4" x2="1309.6" y2="1389.4" stroke="#218ECD" stroke-width="1.95"/>
<line x1="1326.5" y1="1389.4" x2="1345.4" y2="1389.4" stroke="#218ECD" stroke-width="1.95"/>
<line x1="1210.4" y1="1251.5" x2="1315.8" y2="1251.5" stroke="#BF8122" stroke-width="1.95"/>
<line x1="1332.7" y1="1251.5" x2="1437.8" y2="1251.5" stroke="#BF8122" stroke-width="1.95"/>
<line x1="1284.1" y1="1272.2" x2="1294.8" y2="1272.2" stroke="#1EA284" stroke-width="1.95"/>
<line x1="1311.8" y1="1272.2" x2="1322.5" y2="1272.2" stroke="#1EA284" stroke-width="1.95"/>
<line x1="1240.7" y1="1318.6" x2="1243.3" y2="1318.6" stroke="#1DA16F" stroke-width="1.95"/>
<line x1="1260.2" y1="1318.6" x2="1262.9" y2="1318.6" stroke="#1DA16F" stroke-width="1.95"/>
<line x1="1339.3" y1="1223.3" x2="1351.6" y2="1223.3" stroke="#1FA1B5" stroke-width="1.95"/>
<line x1="1368.5" y1="1223.3" x2="1381.2" y2="1223.3" stroke="#1FA1B5" stroke-width="1.95"/>
<line x1="1176.0" y1="1282.9" x2="1193.8" y2="1282.9" stroke="#8B9521" stroke-width="1.95"/>
<line x1="1210.8" y1="1282.9" x2="1227.5" y2="1282.9" stroke="#8B9521" stroke-width="1.95"/>
<line x1="1181.1" y1="1293.0" x2="1189.8" y2="1293.0" stroke="#D467A9" stroke-width="1.95"/>
<line x1="1206.7" y1="1293.0" x2="1215.0" y2="1293.0" stroke="#D467A9" stroke-width="1.95"/>
<line x1="926.5" y1="1117.6" x2="1187.0" y2="1117.6" stroke="#D46A98" stroke-width="1.95"/>
<line x1="1203.9" y1="1117.6" x2="1464.3" y2="1117.6" stroke="#D46A98" stroke-width="1.95"/>
<line x1="1207.9" y1="998.3" x2="1224.0" y2="998.3" stroke="#9784D5" stroke-width="1.95"/>
<line x1="1240.9" y1="998.3" x2="1256.4" y2="998.3" stroke="#9784D5" stroke-width="1.95"/>
<line x1="1094.0" y1="1180.8" x2="1152.1" y2="1180.8" stroke="#9B9122" stroke-width="1.95"/>
<line x1="1169.0" y1="1180.8" x2="1227.7" y2="1180.8" stroke="#9B9122" stroke-width="1.95"/>
<line x1="1022.0" y1="1200.4" x2="1159.0" y2="1200.4" stroke="#1C9D57" stroke-width="1.95"/>
<line x1="1176.0" y1="1200.4" x2="1313.1" y2="1200.4" stroke="#1C9D57" stroke-width="1.95"/>
<line x1="1405.0" y1="1158.5" x2="1477.3" y2="1158.5" stroke="#758CD3" stroke-width="1.95"/>
<line x1="1494.2" y1="1158.5" x2="1566.7" y2="1158.5" stroke="#758CD3" stroke-width="1.95"/>
<line x1="1378.5" y1="1067.8" x2="1392.1" y2="1067.8" stroke="#1FA496" stroke-width="1.95"/>
<line x1="1409.0" y1="1067.8" x2="1422.9" y2="1067.8" stroke="#1FA496" stroke-width="1.95"/>
<line x1="1338.8" y1="1134.0" x2="1372.0" y2="1134.0" stroke="#1F9CC1" stroke-width="1.95"/>
<line x1="1389.0" y1="1134.0" x2="1422.9" y2="1134.0" stroke="#1F9CC1" stroke-width="1.95"/>
<line x1="1329.0" y1="1121.0" x2="1346.8" y2="1121.0" stroke="#D167B8" stroke-width="1.95"/>
<line x1="1363.7" y1="1121.0" x2="1380.5" y2="1121.0" stroke="#D167B8" stroke-width="1.95"/>
<line x1="1305.0" y1="1150.4" x2="1305.3" y2="1150.4" stroke="#AA8D22" stroke-width="1.95"/>
</g>
<line x1="894.40" y1="867.60" x2="894.40" y2="1528.80" stroke="#000" stroke-width="4.27"/>
<line x1="894.40" y1="1528.80" x2="1599.10" y2="1528.80" stroke="#000" stroke-width="4.27"/>
<line x1="883.40" y1="1361.50" x2="894.40" y2="1361.50" stroke="#333" stroke-width="4.27"/>
<text transform="translate(876.00,1375.30) scale(1,1.040)" font-size="35" fill="#4D4D4D" text-anchor="end">10</text>
<line x1="883.40" y1="1150.75" x2="894.40" y2="1150.75" stroke="#333" stroke-width="4.27"/>
<text transform="translate(876.00,1164.55) scale(1,1.040)" font-size="35" fill="#4D4D4D" text-anchor="end">20</text>
<line x1="883.40" y1="940.00" x2="894.40" y2="940.00" stroke="#333" stroke-width="4.27"/>
<text transform="translate(876.00,953.80) scale(1,1.040)" font-size="35" fill="#4D4D4D" text-anchor="end">30</text>
<line x1="1017.00" y1="1528.80" x2="1017.00" y2="1539.80" stroke="#333" stroke-width="4.27"/>
<text transform="translate(1017.00,1573.70) scale(1,1.040)" font-size="35" fill="#4D4D4D" text-anchor="middle">−10</text>
<line x1="1150.50" y1="1528.80" x2="1150.50" y2="1539.80" stroke="#333" stroke-width="4.27"/>
<text transform="translate(1150.50,1573.70) scale(1,1.040)" font-size="35" fill="#4D4D4D" text-anchor="middle">0</text>
<line x1="1284.00" y1="1528.80" x2="1284.00" y2="1539.80" stroke="#333" stroke-width="4.27"/>
<text transform="translate(1284.00,1573.70) scale(1,1.040)" font-size="35" fill="#4D4D4D" text-anchor="middle">10</text>
<line x1="1417.50" y1="1528.80" x2="1417.50" y2="1539.80" stroke="#333" stroke-width="4.27"/>
<text transform="translate(1417.50,1573.70) scale(1,1.040)" font-size="35" fill="#4D4D4D" text-anchor="middle">20</text>
<line x1="1551.00" y1="1528.80" x2="1551.00" y2="1539.80" stroke="#333" stroke-width="4.27"/>
<text transform="translate(1551.00,1573.70) scale(1,1.040)" font-size="35" fill="#4D4D4D" text-anchor="middle">30</text>
<text transform="translate(854.60,1621.90) scale(1,1.040)" font-size="42.6" fill="#000" text-anchor="middle">Relative prediction accuracy with annotations (1M HapMap3 SNPs)</text>
<text transform="translate(33.20,797.70) rotate(-90) scale(1,1.040)" font-size="42.6" fill="#000" text-anchor="middle">Relative prediction accuracy with annotations (7M imputed SNPs)</text>
<text transform="translate(1662.50,334.00) scale(1,1.040)" font-size="42.6" fill="#000">trait</text>
<line x1="1669.2" y1="393.0" x2="1722.7" y2="393.0" stroke="#CF756F" stroke-width="1.95"/>
<circle cx="1695.9" cy="393.0" r="9.1" fill="#F8766D"/>
<text transform="translate(1751.80,405.90) scale(1,1.040)" font-size="35" fill="#000">Allergic</text>
<line x1="1669.2" y1="460.0" x2="1722.7" y2="460.0" stroke="#C87B54" stroke-width="1.95"/>
<circle cx="1695.9" cy="460.0" r="9.1" fill="#EF7F46"/>
<text transform="translate(1751.80,472.88) scale(1,1.040)" font-size="35" fill="#000">AMena</text>
<line x1="1669.2" y1="527.0" x2="1722.7" y2="527.0" stroke="#BF8122" stroke-width="1.95"/>
<circle cx="1695.9" cy="527.0" r="9.1" fill="#E38900"/>
<text transform="translate(1751.80,539.86) scale(1,1.040)" font-size="35" fill="#000">AMeno</text>
<line x1="1669.2" y1="593.9" x2="1722.7" y2="593.9" stroke="#B58622" stroke-width="1.95"/>
<circle cx="1695.9" cy="593.9" r="9.1" fill="#D59100"/>
<text transform="translate(1751.80,606.84) scale(1,1.040)" font-size="35" fill="#000">Asthma</text>
<line x1="1669.2" y1="660.9" x2="1722.7" y2="660.9" stroke="#AA8D22" stroke-width="1.95"/>
<circle cx="1695.9" cy="660.9" r="9.1" fill="#C49A00"/>
<text transform="translate(1751.80,673.82) scale(1,1.040)" font-size="35" fill="#000">BMI</text>
<line x1="1669.2" y1="727.9" x2="1722.7" y2="727.9" stroke="#9B9122" stroke-width="1.95"/>
<circle cx="1695.9" cy="727.9" r="9.1" fill="#B0A100"/>
<text transform="translate(1751.80,740.80) scale(1,1.040)" font-size="35" fill="#000">BW</text>
<line x1="1669.2" y1="794.9" x2="1722.7" y2="794.9" stroke="#8B9521" stroke-width="1.95"/>
<circle cx="1695.9" cy="794.9" r="9.1" fill="#99A800"/>
<text transform="translate(1751.80,807.78) scale(1,1.040)" font-size="35" fill="#000">CHL</text>
<line x1="1669.2" y1="861.9" x2="1722.7" y2="861.9" stroke="#769820" stroke-width="1.95"/>
<circle cx="1695.9" cy="861.9" r="9.1" fill="#7CAE00"/>
<text transform="translate(1751.80,874.76) scale(1,1.040)" font-size="35" fill="#000">Dyslp</text>
<line x1="1669.2" y1="928.8" x2="1722.7" y2="928.8" stroke="#579A1E" stroke-width="1.95"/>
<circle cx="1695.9" cy="928.8" r="9.1" fill="#53B400"/>
<text transform="translate(1751.80,941.74) scale(1,1.040)" font-size="35" fill="#000">EA</text>
<line x1="1669.2" y1="995.8" x2="1722.7" y2="995.8" stroke="#1A9932" stroke-width="1.95"/>
<circle cx="1695.9" cy="995.8" r="9.1" fill="#00B823"/>
<text transform="translate(1751.80,1008.72) scale(1,1.040)" font-size="35" fill="#000">GLAUC</text>
<line x1="1669.2" y1="1062.8" x2="1722.7" y2="1062.8" stroke="#1C9D57" stroke-width="1.95"/>
<circle cx="1695.9" cy="1062.8" r="9.1" fill="#00BC56"/>
<text transform="translate(1751.80,1075.70) scale(1,1.040)" font-size="35" fill="#000">hBMD</text>
<line x1="1669.2" y1="1129.8" x2="1722.7" y2="1129.8" stroke="#1DA16F" stroke-width="1.95"/>
<circle cx="1695.9" cy="1129.8" r="9.1" fill="#00BF77"/>
<text transform="translate(1751.80,1142.68) scale(1,1.040)" font-size="35" fill="#000">HBP</text>
<line x1="1669.2" y1="1196.8" x2="1722.7" y2="1196.8" stroke="#1EA284" stroke-width="1.95"/>
<circle cx="1695.9" cy="1196.8" r="9.1" fill="#00C094"/>
<text transform="translate(1751.80,1209.66) scale(1,1.040)" font-size="35" fill="#000">HT</text>
<line x1="1669.2" y1="1263.7" x2="1722.7" y2="1263.7" stroke="#1FA496" stroke-width="1.95"/>
<circle cx="1695.9" cy="1263.7" r="9.1" fill="#00C1AD"/>
<text transform="translate(1751.80,1276.64) scale(1,1.040)" font-size="35" fill="#000">LMC</text>
<line x1="1897.3" y1="393.0" x2="1950.8" y2="393.0" stroke="#1FA3A6" stroke-width="1.95"/>
<circle cx="1924.0" cy="393.0" r="9.1" fill="#00BFC4"/>
<text transform="translate(1978.10,405.90) scale(1,1.040)" font-size="35" fill="#000">MTCIM</text>
<line x1="1897.3" y1="460.0" x2="1950.8" y2="460.0" stroke="#1FA1B5" stroke-width="1.95"/>
<circle cx="1924.0" cy="460.0" r="9.1" fill="#00BCD9"/>
<text transform="translate(1978.10,472.88) scale(1,1.040)" font-size="35" fill="#000">NeuC</text>
<line x1="1897.3" y1="527.0" x2="1950.8" y2="527.0" stroke="#1F9CC1" stroke-width="1.95"/>
<circle cx="1924.0" cy="527.0" r="9.1" fill="#00B6EB"/>
<text transform="translate(1978.10,539.86) scale(1,1.040)" font-size="35" fill="#000">NTS</text>
<line x1="1897.3" y1="593.9" x2="1950.8" y2="593.9" stroke="#1E96CA" stroke-width="1.95"/>
<circle cx="1924.0" cy="593.9" r="9.1" fill="#00AEF9"/>
<text transform="translate(1978.10,606.84) scale(1,1.040)" font-size="35" fill="#000">PEF</text>
<line x1="1897.3" y1="660.9" x2="1950.8" y2="660.9" stroke="#218ECD" stroke-width="1.95"/>
<circle cx="1924.0" cy="660.9" r="9.1" fill="#06A4FF"/>
<text transform="translate(1978.10,673.82) scale(1,1.040)" font-size="35" fill="#000">PLC</text>
<line x1="1897.3" y1="727.9" x2="1950.8" y2="727.9" stroke="#758CD3" stroke-width="1.95"/>
<circle cx="1924.0" cy="727.9" r="9.1" fill="#7698FF"/>
<text transform="translate(1978.10,740.80) scale(1,1.040)" font-size="35" fill="#000">PR</text>
<line x1="1897.3" y1="794.9" x2="1950.8" y2="794.9" stroke="#9784D5" stroke-width="1.95"/>
<circle cx="1924.0" cy="794.9" r="9.1" fill="#A58AFF"/>
<text transform="translate(1978.10,807.78) scale(1,1.040)" font-size="35" fill="#000">RBC</text>
<line x1="1897.3" y1="861.9" x2="1950.8" y2="861.9" stroke="#AE7BD5" stroke-width="1.95"/>
<circle cx="1924.0" cy="861.9" r="9.1" fill="#C77CFF"/>
<text transform="translate(1978.10,874.76) scale(1,1.040)" font-size="35" fill="#000">Risk_taking</text>
<line x1="1897.3" y1="928.8" x2="1950.8" y2="928.8" stroke="#BF72D0" stroke-width="1.95"/>
<circle cx="1924.0" cy="928.8" r="9.1" fill="#DF70F8"/>
<text transform="translate(1978.10,941.74) scale(1,1.040)" font-size="35" fill="#000">T2D</text>
<line x1="1897.3" y1="995.8" x2="1950.8" y2="995.8" stroke="#CB6BC5" stroke-width="1.95"/>
<circle cx="1924.0" cy="995.8" r="9.1" fill="#F166E9"/>
<text transform="translate(1978.10,1008.72) scale(1,1.040)" font-size="35" fill="#000">Tprotein</text>
<line x1="1897.3" y1="1062.8" x2="1950.8" y2="1062.8" stroke="#D167B8" stroke-width="1.95"/>
<circle cx="1924.0" cy="1062.8" r="9.1" fill="#FB61D7"/>
<text transform="translate(1978.10,1075.70) scale(1,1.040)" font-size="35" fill="#000">Urea</text>
<line x1="1897.3" y1="1129.8" x2="1950.8" y2="1129.8" stroke="#D467A9" stroke-width="1.95"/>
<circle cx="1924.0" cy="1129.8" r="9.1" fill="#FF62C1"/>
<text transform="translate(1978.10,1142.68) scale(1,1.040)" font-size="35" fill="#000">VitD</text>
<line x1="1897.3" y1="1196.8" x2="1950.8" y2="1196.8" stroke="#D46A98" stroke-width="1.95"/>
<circle cx="1924.0" cy="1196.8" r="9.1" fill="#FF66A8"/>
<text transform="translate(1978.10,1209.66) scale(1,1.040)" font-size="35" fill="#000">VV</text>
<line x1="1897.3" y1="1263.7" x2="1950.8" y2="1263.7" stroke="#D36F84" stroke-width="1.95"/>
<circle cx="1924.0" cy="1263.7" r="9.1" fill="#FE6D8C"/>
<text transform="translate(1978.10,1276.64) scale(1,1.040)" font-size="35" fill="#000">WHRadjBMI</text>
</svg></body></html>
